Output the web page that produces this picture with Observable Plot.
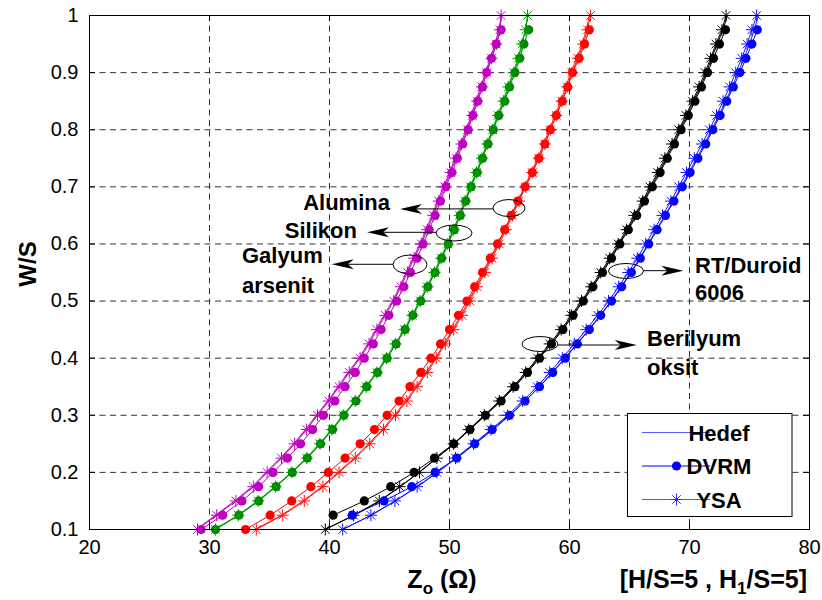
<!DOCTYPE html>
<html><head><meta charset="utf-8">
<script src="https://cdn.jsdelivr.net/npm/d3@7"></script>
<script src="https://cdn.jsdelivr.net/npm/@observablehq/plot@0.6"></script>
<style>
html,body{margin:0;padding:0;background:#fff;}
#chart{position:relative;width:822px;height:600px;}
</style></head><body><div id="chart"></div>
<script>
// ---------- data ----------
const xTicks = [20, 30, 40, 50, 60, 70, 80];
const yTicks = [0.1, 0.2, 0.3, 0.4, 0.5, 0.6, 0.7, 0.8, 0.9, 1];
const wsGrid = [0.1,0.125,0.15,0.175,0.2,0.225,0.25,0.275,0.3,0.325,0.35,0.375,0.4,0.425,0.45,0.475,0.5,0.525,0.55,0.575,0.6,0.625,0.65,0.675,0.7,0.725,0.75,0.775,0.8,0.825,0.85,0.875,0.9,0.925,0.95,0.975,1.0];
const materials = ["Galyum arsenit", "Silikon", "Alumina", "Berilyum oksit", "RT/Duroid 6006"];
const seriesNames = ["Hedef", "DVRM", "YSA"];

const gaHedef = [28.9,30.5,32.1,33.55,34.7,35.9,37.0,38.0,38.9,39.85,40.7,41.55,42.45,43.2,43.85,44.55,45.25,45.85,46.4,46.95,47.55,48.05,48.55,49.0,49.5,50.0,50.45,50.9,51.4,51.8,52.2,52.6,53.0,53.4,53.8,54.1,54.35];
const gaDVRM  = [29.3,31.1,32.7,34.1,35.3,36.5,37.6,38.6,39.5,40.45,41.3,42.15,42.9,43.65,44.3,44.95,45.6,46.2,46.75,47.3,47.8,48.3,48.8,49.25,49.7,50.2,50.65,51.1,51.55,51.95,52.35,52.75,53.1,53.5,53.9,54.3,null];
const gaYSA   = [29.0,30.6,32.2,33.65,34.8,36.0,37.1,38.1,39.0,39.95,40.8,41.65,42.55,43.3,43.95,44.65,45.35,45.95,46.5,47.05,47.65,48.15,48.65,49.1,49.6,50.1,50.55,51.0,51.5,51.9,52.3,52.7,53.1,53.5,53.9,54.2,54.3];

const siHedef = [30.4,32.35,34.0,35.45,36.8,38.05,39.15,40.15,41.1,42.1,43.0,43.9,44.7,45.45,46.2,46.85,47.5,48.1,48.7,49.25,49.8,50.3,50.8,51.25,51.7,52.2,52.65,53.1,53.55,54.0,54.45,54.85,55.3,55.7,56.0,56.3,56.55];
const siDVRM  = [30.5,32.45,34.1,35.55,36.9,38.15,39.25,40.25,41.2,42.2,43.1,44.0,44.8,45.55,46.3,46.95,47.6,48.2,48.8,49.35,49.9,50.4,50.9,51.35,51.8,52.3,52.75,53.2,53.65,54.1,54.6,55.0,55.45,55.85,56.2,56.6,null];
const siYSA   = [30.5,32.4,34.05,35.5,36.85,38.1,39.2,40.2,41.15,42.15,43.05,43.95,44.75,45.5,46.25,46.9,47.55,48.15,48.75,49.3,49.85,50.35,50.85,51.3,51.75,52.25,52.7,53.15,53.6,54.05,54.5,54.9,55.35,55.75,56.05,56.35,56.5];

const alHedef = [33.8,36.0,37.8,39.35,40.7,42.05,43.25,44.4,45.4,46.35,47.2,48.05,48.8,49.55,50.25,50.95,51.6,52.2,52.85,53.45,54.05,54.6,55.15,55.7,56.25,56.8,57.35,57.85,58.3,58.8,59.25,59.7,60.1,60.6,61.05,61.4,61.65];
const alDVRM  = [33.0,35.05,36.85,38.45,39.9,41.3,42.55,43.75,44.8,45.8,46.7,47.6,48.45,49.25,50.0,50.75,51.45,52.1,52.75,53.4,54.0,54.6,55.15,55.7,56.3,56.9,57.45,57.95,58.4,58.9,59.4,59.85,60.25,60.8,61.25,61.65,null];
const alYSA   = [33.9,36.1,37.9,39.45,40.8,42.15,43.35,44.5,45.5,46.45,47.3,48.15,48.9,49.65,50.35,51.05,51.7,52.3,52.95,53.55,54.15,54.7,55.25,55.8,56.35,56.9,57.45,57.95,58.4,58.9,59.35,59.8,60.2,60.7,61.15,61.5,61.75];

const beHedef = [39.6,42.1,44.2,45.9,47.45,48.9,50.4,51.7,53.0,54.25,55.4,56.45,57.45,58.45,59.4,60.25,61.1,61.9,62.7,63.45,64.15,64.85,65.5,66.2,66.8,67.45,68.05,68.65,69.2,69.8,70.35,70.9,71.4,71.85,72.3,72.8,73.15];
const beDVRM  = [null,40.3,42.9,45.1,47.05,48.75,50.35,51.7,53.0,54.3,55.45,56.5,57.5,58.5,59.45,60.3,61.15,61.95,62.75,63.5,64.2,64.9,65.6,66.25,66.9,67.55,68.15,68.75,69.3,69.9,70.45,71.0,71.5,72.0,72.5,73.0,null];
const beYSA   = [39.65,42.0,44.15,45.85,47.5,48.95,50.35,51.6,52.9,54.15,55.3,56.35,57.35,58.35,59.3,60.15,61.0,61.8,62.6,63.35,64.05,64.75,65.4,66.1,66.7,67.35,67.95,68.55,69.1,69.7,70.25,70.8,71.3,71.75,72.2,72.7,73.05];

const rtHedef = [41.1,43.5,45.5,47.35,49.0,50.6,52.15,53.65,55.05,56.3,57.5,58.55,59.6,60.6,61.6,62.55,63.45,64.3,65.1,65.85,66.55,67.25,67.95,68.65,69.3,69.95,70.6,71.25,71.85,72.45,73.0,73.55,74.05,74.55,75.0,75.4,75.75];
const rtDVRM  = [null,41.9,44.55,46.85,48.8,50.6,52.1,53.55,55.0,56.3,57.5,58.6,59.65,60.65,61.65,62.6,63.5,64.35,65.15,65.9,66.6,67.3,68.0,68.7,69.4,70.05,70.7,71.35,71.95,72.55,73.1,73.65,74.2,74.7,75.2,75.65,null];
const rtYSA   = [41.1,43.45,45.45,47.3,48.95,50.5,52.0,53.45,54.85,56.1,57.3,58.35,59.4,60.4,61.4,62.35,63.25,64.1,64.9,65.65,66.35,67.05,67.75,68.45,69.1,69.75,70.4,71.05,71.65,72.25,72.8,73.35,73.85,74.35,74.8,75.2,75.6];

const legendLabels = ["Hedef", "DVRM", "YSA"];

// ---------- styling ----------
const FONT = '"Liberation Sans", Arial, Helvetica, sans-serif';
const colors = {
  "Galyum arsenit": {Hedef: "#c000c0", DVRM: "#bf00bf", YSA: "#c000c0"},
  "Silikon":        {Hedef: "#20d020", DVRM: "#008000", YSA: "#009a00"},
  "Alumina":        {Hedef: "#ff2020", DVRM: "#ff0000", YSA: "#ff1010"},
  "Berilyum oksit": {Hedef: "#000000", DVRM: "#000000", YSA: "#000000"},
  "RT/Duroid 6006": {Hedef: "#2020ff", DVRM: "#0000ff", YSA: "#1010ff"}
};
const valueSets = {
  "Galyum arsenit": [gaHedef, gaDVRM, gaYSA],
  "Silikon": [siHedef, siDVRM, siYSA],
  "Alumina": [alHedef, alDVRM, alYSA],
  "Berilyum oksit": [beHedef, beDVRM, beYSA],
  "RT/Duroid 6006": [rtHedef, rtDVRM, rtYSA]
};

// table
const rows = [];
for (const m of materials) {
  valueSets[m].forEach((arr, si) => {
    arr.forEach((z, i) => {
      if (z != null && wsGrid[i] != null) rows.push({material: m, series: seriesNames[si], ws: wsGrid[i], z});
    });
  });
}

// 8-armed asterisk (MATLAB '*')
const star8 = {
  draw(ctx, size) {
    const r = Math.sqrt(size / Math.PI), d = r * Math.SQRT1_2;
    ctx.moveTo(-r, 0); ctx.lineTo(r, 0);
    ctx.moveTo(0, -r); ctx.lineTo(0, r);
    ctx.moveTo(-d, -d); ctx.lineTo(d, d);
    ctx.moveTo(-d, d); ctx.lineTo(d, -d);
  }
};

const W = 822, H = 600, mL = 89, mR = 13, mT = 15, mB = 71;
const fW = W - mL - mR, fH = H - mT - mB;

const seriesMarks = [];
for (const m of materials) {
  const c = colors[m];
  const sel = s => rows.filter(r => r.material === m && r.series === s);
  seriesMarks.push(Plot.line(sel("Hedef"), {x: "z", y: "ws", stroke: c.Hedef, strokeWidth: 1}));
  seriesMarks.push(Plot.line(sel("DVRM"), {x: "z", y: "ws", stroke: c.DVRM, strokeWidth: 1}));
  seriesMarks.push(Plot.dot(sel("DVRM"), {x: "z", y: "ws", r: 4.6, fill: c.DVRM, stroke: "none"}));
  seriesMarks.push(Plot.line(sel("YSA"), {x: "z", y: "ws", stroke: c.YSA, strokeWidth: 1}));
  seriesMarks.push(Plot.dot(sel("YSA"), {x: "z", y: "ws", r: 6, symbol: star8, fill: "none", stroke: c.YSA, strokeWidth: 1}));
}

const plot = Plot.plot({
  width: W, height: H,
  marginLeft: mL, marginRight: mR, marginTop: mT, marginBottom: mB,
  style: {fontFamily: FONT, fontSize: "20px", background: "#fff", color: "#000"},
  x: {domain: [20, 80], label: null},
  y: {domain: [0.1, 1], label: null},
  marks: [
    Plot.ruleX(xTicks.slice(1, -1), {stroke: "#333", strokeWidth: 1, strokeDasharray: "6,4.5"}),
    Plot.ruleY(yTicks.slice(1, -1), {stroke: "#333", strokeWidth: 1, strokeDasharray: "6,4.5"}),
    ...seriesMarks,
    Plot.frame({stroke: "#000", strokeWidth: 1}),
    Plot.ruleX(xTicks, {stroke: "#000", insetTop: fH - 6}),
    Plot.ruleX(xTicks, {stroke: "#000", insetBottom: fH - 6}),
    Plot.ruleY(yTicks, {stroke: "#000", insetRight: fW - 6}),
    Plot.ruleY(yTicks, {stroke: "#000", insetLeft: fW - 6}),
    Plot.axisX({ticks: xTicks, tickSize: 0, tickPadding: 10, fontSize: 20, label: null, tickFormat: d => String(d)}),
    Plot.axisY({ticks: yTicks, tickSize: 0, tickPadding: 11, fontSize: 20, label: null, tickFormat: d => String(d)})
  ]
});
document.getElementById("chart").appendChild(plot);

// ---------- overlay: axis titles, annotations, legend ----------
const sx = plot.scale("x"), sy = plot.scale("y");
const X = v => sx.apply(v), Y = v => sy.apply(v);
const svg = d3.select(plot);
const g = svg.append("g").attr("font-family", FONT).attr("font-weight", "bold").attr("fill", "#000");

// y title
g.append("text").attr("transform", `translate(27,${(mT + H - mB) / 2 - 8}) rotate(-90)`)
  .attr("text-anchor", "middle").attr("dominant-baseline", "central").attr("font-size", 24).text("W/S");
// x titles
const xt = g.append("text").attr("x", 442).attr("y", 588).attr("text-anchor", "middle").attr("font-size", 25);
xt.append("tspan").text("Z");
xt.append("tspan").attr("dy", 6).attr("font-size", 17).text("o");
xt.append("tspan").attr("dy", -6).text(" (\u03A9)");
const xt2 = g.append("text").attr("x", 807).attr("y", 588).attr("text-anchor", "end").attr("font-size", 25);
xt2.append("tspan").text("[H/S=5 , H");
xt2.append("tspan").attr("dy", 6).attr("font-size", 17).text("1");
xt2.append("tspan").attr("dy", -6).text("/S=5]");

// annotations (data coordinates)
const notes = [
  {lines: ["Alumina"], ex: 55.0, ey: 0.662, rx: 16, ry: 8.5, tail: 53.67, tip: 45.92, ay: 0.6605, tx: 45.08, ty: [0.6586], anchor: "end"},
  {lines: ["Silikon"], ex: 50.42, ey: 0.6183, rx: 18, ry: 8, tail: 48.92, tip: 43.17, ay: 0.6195, tx: 42.33, ty: [0.6095], anchor: "end"},
  {lines: ["Galyum", "arsenit"], ex: 46.75, ey: 0.5631, rx: 17, ry: 9.5, tail: 45.33, tip: 40.23, ay: 0.5635, tx: 32.75, ty: [0.566, 0.5132], anchor: "start"},
  {lines: ["RT/Duroid", "6006"], ex: 64.75, ey: 0.5518, rx: 17.5, ry: 7.5, tail: 66.21, tip: 69.53, ay: 0.5523, tx: 70.5, ty: [0.5482, 0.501], anchor: "start"},
  {lines: ["Berilyum", "oksit"], ex: 57.58, ey: 0.4239, rx: 18, ry: 7.5, tail: 59.08, tip: 65.64, ay: 0.4222, tx: 66.5, ty: [0.4205, 0.3697], anchor: "start"}
];
const ga = svg.append("g");
for (const n of notes) {
  ga.append("ellipse").attr("cx", X(n.ex)).attr("cy", Y(n.ey)).attr("rx", n.rx).attr("ry", n.ry)
    .attr("fill", "none").attr("stroke", "#000").attr("stroke-width", 1);
  const x0 = X(n.tail), x1 = X(n.tip), yy = Y(n.ay);
  const dir = Math.sign(x1 - x0);
  ga.append("line").attr("x1", x0).attr("x2", x1 - dir * 14).attr("y1", yy).attr("y2", yy).attr("stroke", "#000").attr("stroke-width", 1);
  const L = 22, hw = 5, N = 16;
  ga.append("path").attr("d", `M${x1},${yy}L${x1 - dir * L},${yy - hw}L${x1 - dir * N},${yy}L${x1 - dir * L},${yy + hw}Z`).attr("fill", "#000");
  n.lines.forEach((t, i) => {
    g.append("text").attr("x", X(n.tx)).attr("y", Y(n.ty[i])).attr("text-anchor", n.anchor).attr("font-size", 22).text(t);
  });
}

// legend
const lg = svg.append("g").attr("font-family", FONT);
lg.append("rect").attr("x", 627.5).attr("y", 413.5).attr("width", 164.5).attr("height", 103)
  .attr("fill", "#fff").attr("stroke", "#000").attr("stroke-width", 1);
const ly = [432.5, 466, 499.5];
legendLabels.forEach((lab, i) => {
  lg.append("line").attr("x1", 642).attr("x2", 710).attr("y1", ly[i]).attr("y2", ly[i])
    .attr("stroke", i === 1 ? "#0000ff" : "#5a5aff").attr("stroke-width", 1);
  if (i === 1) lg.append("circle").attr("cx", 676.5).attr("cy", ly[i]).attr("r", 4.6).attr("fill", "#0000ff");
  if (i === 2) lg.append("path").attr("transform", `translate(676.5,${ly[i]})`)
    .attr("d", d3.symbol(star8, 36 * Math.PI)()).attr("fill", "none").attr("stroke", "#2a2aff").attr("stroke-width", 1);
  lg.append("text").attr("x", 719).attr("y", ly[i] + 8).attr("font-size", 22).attr("font-weight", "bold").attr("fill", "#000").text(lab);
});
</script></body></html>
